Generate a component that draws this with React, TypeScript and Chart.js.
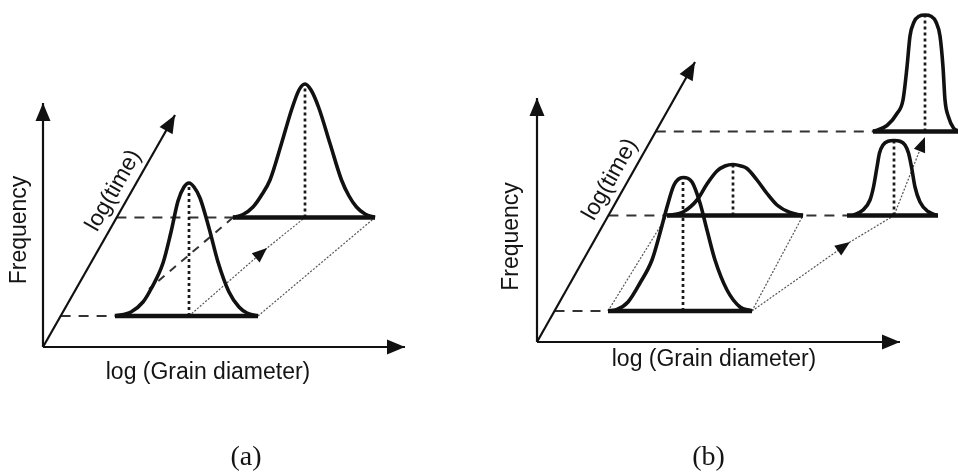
import { useEffect, useRef } from "react";
import { Chart, registerables } from "chart.js";

Chart.register(...registerables);

type Pt = [number, number];

// All coordinates are measured from each panel's axes origin, y pointing up.

// ---------- Panel (a): the size distribution shifts unchanged with time ----------
const A_FREQ_AXIS: Pt[] = [[0, 0], [0, 244]];
const A_SIZE_AXIS: Pt[] = [[0, 0], [362, 0]];
const A_TIME_AXIS: Pt[] = [[0, 0], [132, 232]];

const A_GUIDE_EARLY: Pt[] = [[17.6, 31], [72, 31]];
const A_GUIDE_LATE: Pt[] = [[73.4, 129.5], [190, 129.5]];
const A_BASE_EARLY: Pt[] = [[72, 31], [215, 31]];
const A_BASE_LATE: Pt[] = [[190, 129.5], [332, 129.5]];

const A_CURVE_EARLY: Pt[] = [
  [72, 31], [88, 35], [100, 45], [108, 58], [120, 84], [128, 115], [135, 146],
  [141, 160], [146, 164], [151, 160], [157, 149], [166, 119], [175, 85],
  [186, 55], [196, 40], [204, 34], [215, 31],
];
const A_CURVE_LATE: Pt[] = [
  [190, 129.5], [200, 132.5], [210, 140], [218, 151], [227, 167], [238.5, 203.5],
  [248.5, 237], [256, 257], [262, 263], [268, 257], [275.5, 240], [287, 203.5],
  [298.5, 167], [306, 151], [313.5, 140], [322, 133], [332, 129.5],
];

const A_PEAK_EARLY: Pt[] = [[146, 31], [146, 164]];
const A_PEAK_LATE: Pt[] = [[262, 129.5], [262, 263]];

const A_TRACK_PEAK: Pt[] = [[146, 31], [224, 99], [262, 129.5]];
const A_TRACK_RIGHT: Pt[] = [[215, 31], [332, 129.5]];
const A_TRACK_LEFT: Pt[] = [[190, 129.5], [106, 58]];

// ---------- Panel (b): a few grains outgrow the rest ----------
const B_FREQ_AXIS: Pt[] = [[0, 0], [0, 244]];
const B_SIZE_AXIS: Pt[] = [[0, 0], [363, 0]];
const B_TIME_AXIS: Pt[] = [[0, 0], [158, 280]];

const B_GUIDE_LOW: Pt[] = [[17.5, 31], [71, 31]];
const B_GUIDE_MID: Pt[] = [[71.4, 126.5], [310, 126.5]];
const B_GUIDE_HIGH: Pt[] = [[118.8, 210.5], [336, 210.5]];
const B_BASE_LOW: Pt[] = [[71, 31], [215, 31]];
const B_BASE_MID_WIDE: Pt[] = [[130, 126.5], [266, 126.5]];
const B_BASE_MID_NARROW: Pt[] = [[310, 126.5], [401, 126.5]];
const B_BASE_HIGH: Pt[] = [[336, 210.5], [421, 210.5]];

const B_CURVE_START: Pt[] = [
  [71, 31], [80, 32.5], [91, 40], [103, 59], [115, 82], [123, 109], [130, 135],
  [137, 157], [146, 164.5], [155, 160], [163, 139], [170, 112], [178, 82],
  [190, 52], [203, 35], [213, 31.5], [215, 31],
];
const B_CURVE_MATRIX: Pt[] = [
  [130, 126.5], [146, 130], [160, 142], [170, 158], [180, 171], [188, 176],
  [196, 177.5], [204, 176], [210, 173.5], [220, 162], [230, 148.5], [240, 137],
  [253, 129.5], [266, 126.5],
];
const B_CURVE_GIANT: Pt[] = [
  [316, 126.5], [326, 132], [333, 142], [336.5, 155], [340, 175], [342.5, 189],
  [346, 197], [351, 200.8], [357, 201.5], [363, 200.8], [368, 197], [371.5, 189],
  [374.5, 175], [378, 155], [383, 140], [391, 130.5], [400, 126.5],
];
const B_CURVE_FINAL: Pt[] = [
  [336, 210.5], [350, 216.5], [360, 228.5], [366, 242], [370, 275], [373, 306],
  [377, 320], [382, 325.8], [388, 327], [394, 325.8], [399, 320], [403, 306],
  [406, 275], [408, 242], [411.5, 225], [416.5, 214], [421, 211],
];

const B_PEAK_START: Pt[] = [[146, 31], [146, 164.5]];
const B_PEAK_MATRIX: Pt[] = [[196, 126.5], [196, 177.5]];
const B_PEAK_GIANT: Pt[] = [[357, 126.5], [357, 201.5]];
const B_PEAK_FINAL: Pt[] = [[388, 210.5], [388, 327]];

const B_TRACK_LEFT: Pt[] = [[71, 31], [130, 126.5]];
const B_TRACK_RIGHT: Pt[] = [[215, 31], [266, 126.5]];
const B_TRACK_GIANT: Pt[] = [[215, 31], [313, 100], [357, 126.5], [388, 205]];

// ---------- Text ----------
const FREQ_TITLE = "Frequency";
const SIZE_TITLE = "log (Grain diameter)";
const TIME_TITLE = "log(time)";
const CAPTIONS = ["(a)", "(b)"];

const SANS = '23px "Liberation Sans", Arial, Helvetica, sans-serif';
const SERIF = '28px "Liberation Serif", "Times New Roman", serif';

// ---------- Styles ----------
const AXIS = { borderColor: "#111", borderWidth: 2.2, order: 1 };
const BASE = { borderColor: "#111", borderWidth: 4.4, order: 0 };
const CURVE = {
  borderColor: "#111",
  borderWidth: 3.6,
  cubicInterpolationMode: "monotone",
  borderJoinStyle: "round",
  order: 0,
};
const GUIDE = { borderColor: "#333", borderWidth: 2, borderDash: [10, 8], order: 3 };
const PEAK = { borderColor: "#1a1a1a", borderWidth: 2.7, borderDash: [3, 3], order: 2 };
const TRACK = { borderColor: "#555", borderWidth: 1.2, borderDash: [2, 1.6], order: 4 };
const TRACK_DASH = { borderColor: "#333", borderWidth: 2, borderDash: [8, 7], order: 3 };

type Head = { at: number; len: number; half: number };
const BIG_HEAD = (at: number): Head => ({ at, len: 18, half: 7.5 });
const SMALL_HEAD = (at: number): Head => ({ at, len: 15, half: 6 });

function line(points: Pt[], style: Record<string, unknown>, heads: Head[] = []) {
  return {
    data: points.map(([x, y]) => ({ x, y })),
    showLine: true,
    pointRadius: 0,
    pointHoverRadius: 0,
    fill: false,
    ...style,
    heads,
  };
}

// Filled arrowheads at chosen points, oriented along the incoming segment.
const arrowPlugin = {
  id: "arrowHeads",
  afterDatasetsDraw(chart: any) {
    const ctx: CanvasRenderingContext2D = chart.ctx;
    chart.data.datasets.forEach((ds: any, i: number) => {
      const heads: Head[] = ds.heads || [];
      if (!heads.length) return;
      const pts = chart.getDatasetMeta(i).data;
      heads.forEach((h) => {
        const tip = pts[h.at];
        const prev = pts[h.at - 1];
        const a = Math.atan2(tip.y - prev.y, tip.x - prev.x);
        const cx = Math.cos(a);
        const cy = Math.sin(a);
        const bx = tip.x - cx * h.len;
        const by = tip.y - cy * h.len;
        ctx.save();
        ctx.fillStyle = "#111";
        ctx.beginPath();
        ctx.moveTo(tip.x, tip.y);
        ctx.lineTo(bx - cy * h.half, by + cx * h.half);
        ctx.lineTo(bx + cy * h.half, by - cx * h.half);
        ctx.closePath();
        ctx.fill();
        ctx.restore();
      });
    });
  },
};

type Label = { text: string; x: number; y: number; turn: "none" | "up" | "time"; font: string };

function labelPlugin(labels: Label[], timeAxis: Pt[]) {
  return {
    id: "diagramLabels",
    afterDraw(chart: any) {
      const ctx: CanvasRenderingContext2D = chart.ctx;
      const { x, y } = chart.scales;
      const [p0, p1] = timeAxis;
      const along = Math.atan2(
        y.getPixelForValue(p1[1]) - y.getPixelForValue(p0[1]),
        x.getPixelForValue(p1[0]) - x.getPixelForValue(p0[0])
      );
      labels.forEach((l) => {
        ctx.save();
        ctx.translate(x.getPixelForValue(l.x), y.getPixelForValue(l.y));
        ctx.rotate(l.turn === "up" ? -Math.PI / 2 : l.turn === "time" ? along : 0);
        ctx.font = l.font;
        ctx.fillStyle = "#141414";
        ctx.textAlign = "center";
        ctx.textBaseline = "alphabetic";
        ctx.fillText(l.text, 0, 0);
        ctx.restore();
      });
    },
  };
}

type View = { x0: number; x1: number; y0: number; y1: number };

function Panel(props: {
  build: () => any[];
  labels: Label[];
  timeAxis: Pt[];
  view: View;
  left: number;
}) {
  const ref = useRef<HTMLCanvasElement>(null);
  useEffect(() => {
    const { view } = props;
    const chart = new Chart(ref.current as HTMLCanvasElement, {
      type: "scatter",
      data: { datasets: props.build() },
      options: {
        animation: false,
        responsive: false,
        devicePixelRatio: 1,
        events: [],
        layout: { padding: 0 },
        plugins: { legend: { display: false }, tooltip: { enabled: false } },
        scales: {
          x: { type: "linear", display: false, min: view.x0, max: view.x1 },
          y: { type: "linear", display: false, min: view.y0, max: view.y1 },
        },
      } as any,
      plugins: [arrowPlugin, labelPlugin(props.labels, props.timeAxis)],
    });
    return () => chart.destroy();
  }, []);
  return (
    <canvas
      ref={ref}
      width={479}
      height={472}
      style={{ position: "absolute", left: props.left, top: 0, width: 479, height: 472 }}
    />
  );
}

const buildA = () => [
  line(A_CURVE_EARLY, CURVE),
  line(A_CURVE_LATE, CURVE),
  line(A_BASE_EARLY, BASE),
  line(A_BASE_LATE, BASE),
  line(A_FREQ_AXIS, AXIS, [BIG_HEAD(1)]),
  line(A_SIZE_AXIS, AXIS, [BIG_HEAD(1)]),
  line(A_TIME_AXIS, AXIS, [BIG_HEAD(1)]),
  line(A_PEAK_EARLY, PEAK),
  line(A_PEAK_LATE, PEAK),
  line(A_GUIDE_EARLY, GUIDE),
  line(A_GUIDE_LATE, GUIDE),
  line(A_TRACK_LEFT, TRACK_DASH),
  line(A_TRACK_PEAK, TRACK, [SMALL_HEAD(1)]),
  line(A_TRACK_RIGHT, TRACK),
];

const buildB = () => [
  line(B_CURVE_START, CURVE),
  line(B_CURVE_MATRIX, CURVE),
  line(B_CURVE_GIANT, CURVE),
  line(B_CURVE_FINAL, CURVE),
  line(B_BASE_LOW, BASE),
  line(B_BASE_MID_WIDE, BASE),
  line(B_BASE_MID_NARROW, BASE),
  line(B_BASE_HIGH, BASE),
  line(B_FREQ_AXIS, AXIS, [BIG_HEAD(1)]),
  line(B_SIZE_AXIS, AXIS, [BIG_HEAD(1)]),
  line(B_TIME_AXIS, AXIS, [BIG_HEAD(1)]),
  line(B_PEAK_START, PEAK),
  line(B_PEAK_MATRIX, PEAK),
  line(B_PEAK_GIANT, PEAK),
  line(B_PEAK_FINAL, PEAK),
  line(B_GUIDE_LOW, GUIDE),
  line(B_GUIDE_MID, GUIDE),
  line(B_GUIDE_HIGH, GUIDE),
  line(B_TRACK_LEFT, TRACK),
  line(B_TRACK_RIGHT, TRACK),
  line(B_TRACK_GIANT, TRACK, [SMALL_HEAD(1), SMALL_HEAD(3)]),
];

const LABELS_A: Label[] = [
  { text: FREQ_TITLE, x: -17.2, y: 117, turn: "up", font: SANS },
  { text: SIZE_TITLE, x: 165, y: -31.5, turn: "none", font: SANS },
  { text: TIME_TITLE, x: 76.1, y: 153.4, turn: "time", font: SANS },
  { text: CAPTIONS[0], x: 203, y: -118.3, turn: "none", font: SERIF },
];

const LABELS_B: Label[] = [
  { text: FREQ_TITLE, x: -18.6, y: 105.5, turn: "up", font: SANS },
  { text: SIZE_TITLE, x: 177, y: -23.5, turn: "none", font: SANS },
  { text: TIME_TITLE, x: 78.8, y: 159.4, turn: "time", font: SANS },
  { text: CAPTIONS[1], x: 171.5, y: -123.3, turn: "none", font: SERIF },
];

export default function App() {
  return (
    <div
      style={{
        position: "fixed",
        left: 0,
        top: 0,
        width: 958,
        height: 472,
        background: "#fff",
        overflow: "hidden",
      }}
    >
      <Panel
        build={buildA}
        labels={LABELS_A}
        timeAxis={A_TIME_AXIS}
        view={{ x0: -43, x1: 436, y0: -125, y1: 347 }}
        left={0}
      />
      <Panel
        build={buildB}
        labels={LABELS_B}
        timeAxis={B_TIME_AXIS}
        view={{ x0: -58, x1: 421, y0: -130, y1: 342 }}
        left={479}
      />
    </div>
  );
}
